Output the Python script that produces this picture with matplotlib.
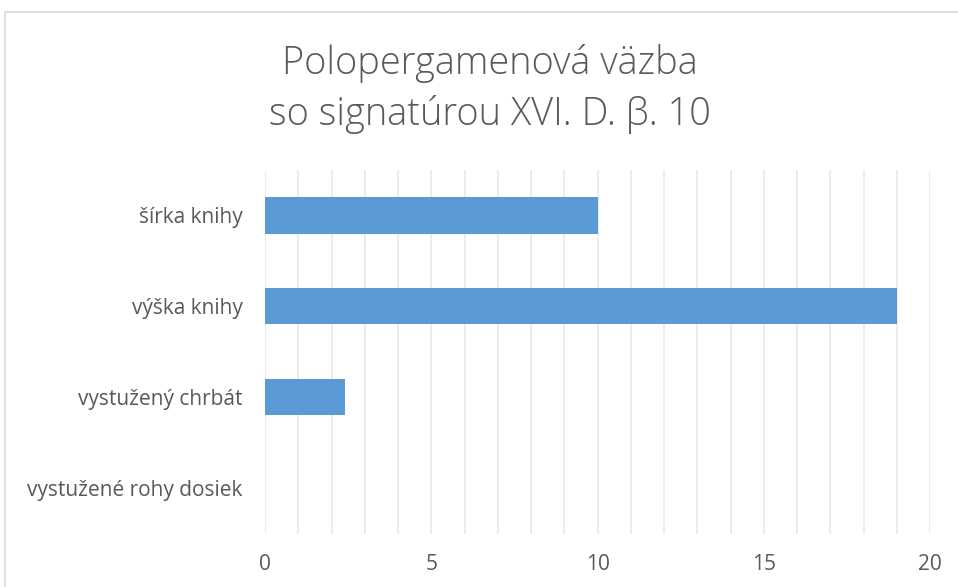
import matplotlib.pyplot as plt
from matplotlib.patches import Rectangle

# data, bottom to top
categories = ["vystužené rohy dosiek", "vystužený chrbát", "výška knihy", "šírka knihy"]
values = [0, 2.4, 19, 10]
xticks = [0, 5, 10, 15, 20]

plt.rcParams['font.family'] = ['Open Sans', 'DejaVu Sans']

fig = plt.figure(figsize=(9.58, 5.87), dpi=100)
ax = fig.add_axes([265 / 958, 1 - 533.5 / 587, 665 / 958, 363.5 / 587])

ax.barh(range(len(categories)), values, height=0.4, color="#5b9bd5", zorder=3)

ax.set_xlim(0, 20)
ax.set_ylim(-0.5, len(categories) - 0.5)
ax.set_yticks(range(len(categories)))
ax.set_yticklabels(categories)
ax.set_xticks(xticks)
ax.set_xticks(range(0, 21), minor=True)
ax.grid(axis="x", which="both", color="#ebebeb", linewidth=1.3, zorder=0)
ax.tick_params(axis="both", which="both", length=0, labelsize=15, labelcolor="#595959")
ax.tick_params(axis="x", pad=15)
ax.tick_params(axis="y", pad=16)
for s in ax.spines.values():
    s.set_visible(False)

fig.text(0.511, 1 - 89 / 587, "Polopergamenová väzba\nso signatúrou XVI. D. β. 10",
         ha="center", va="center", fontsize=27.3, fontweight="light", color="#595959",
         linespacing=1.4)

# chart frame
fig.patches.append(Rectangle((5 / 958, -0.1), 1.1, 1.1 - 12 / 587, transform=fig.transFigure,
                             fill=False, edgecolor="#d9d9d9", linewidth=1.2))

fig.savefig("out.png", dpi=100)
